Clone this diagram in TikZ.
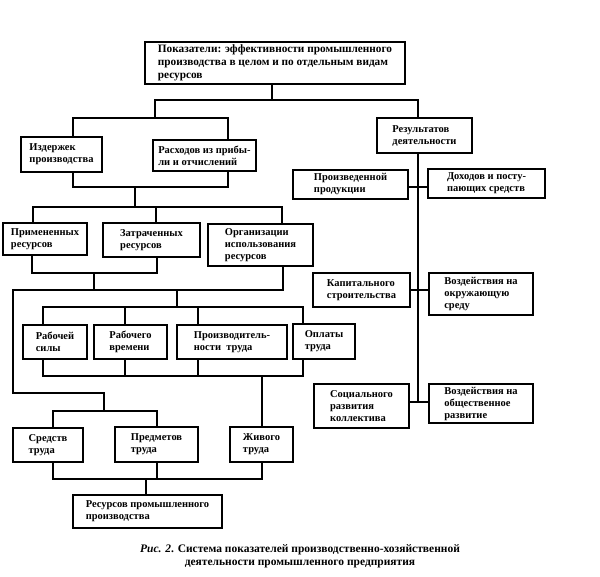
\documentclass[tikz,border=0pt]{standalone}
\usepackage{fontspec}
\setmainfont{Liberation Serif}
\begin{document}
\begin{tikzpicture}[x=1pt,y=-1pt,
  box/.style={draw,line width=1.4pt,inner sep=0pt,outer sep=0pt,align=left,anchor=north west,
    font=\fontsize{10.5}{12}\selectfont\bfseries},
  bigtext/.style={font=\fontsize{11.3}{12.8}\selectfont\bfseries},
  con/.style={line width=1.4pt,line cap=rect}]
\useasboundingbox (0,0) rectangle (600,576);
\newcommand\bx[7][]{%
  \pgfmathsetmacro\bw{#5-#3}\pgfmathsetmacro\bh{#6-#4}%
  \node[box,minimum width=\bw pt,minimum height=\bh pt,#1] (#2) at (#3,#4) {#7};}
% boxes
\bx[bigtext]{top}{145}{42}{405}{84}{Показатели: эффективности промышленного\\производства в целом и по отдельным видам\\ресурсов}
\bx{izd}{21}{137}{102}{172}{Издержек\\производства}
\bx{ras}{153}{140}{256}{171}{Расходов из прибы-\\ли и отчислений}
\bx{res}{377}{118}{472}{153}{Результатов\\деятельности}
\bx{prz}{293}{170}{408}{199}{Произведенной\\продукции}
\bx{doh}{428}{169}{545}{198}{Доходов и посту-\\пающих средств}
\bx{prim}{3}{223}{87}{255}{Примененных\\ресурсов}
\bx{zatr}{103}{223}{200}{257}{Затраченных\\ресурсов}
\bx{org}{208}{224}{313}{266}{Организации\\использования\\ресурсов}
\bx{kap}{313}{273}{410}{307}{Капитального\\строительства}
\bx{voza}{429}{273}{533}{315}{Воздействия на\\окружающую\\среду}
\bx{rsil}{23}{325}{87}{359}{Рабочей\\силы}
\bx{rvr}{94}{325}{167}{359}{Рабочего\\времени}
\bx{ptr}{177}{325}{287}{359}{Производитель-\\ности~ труда}
\bx{opl}{293}{324}{355}{359}{Оплаты\\труда}
\bx{soc}{314}{384}{409}{428}{Социального\\развития\\коллектива}
\bx{vozb}{429}{384}{533}{423}{Воздействия на\\общественное\\развитие}
\bx{sred}{13}{428}{83}{462}{Средств\\труда}
\bx{pred}{115}{427}{198}{462}{Предметов\\труда}
\bx{jiv}{230}{427}{293}{462}{Живого\\труда}
\bx{resp}{73}{495}{222}{528}{Ресурсов промышленного\\производства}
% junction coordinates
\coordinate (a0) at (272,100); \coordinate (aL) at (155,100); \coordinate (aR) at (418,100);
\coordinate (bL) at (73,118); \coordinate (bR) at (228,118);
\coordinate (cL) at (73,187); \coordinate (cR) at (228,187); \coordinate (cM) at (135,187);
\coordinate (dL) at (33,207); \coordinate (dC) at (156,207); \coordinate (dR) at (282,207); \coordinate (dM) at (135,207);
\coordinate (eL) at (32,273); \coordinate (eR) at (157,273); \coordinate (eM) at (94,273);
\coordinate (fL) at (13,290); \coordinate (fR) at (283,290); \coordinate (fM) at (94,290); \coordinate (fC) at (177,290);
\coordinate (iL) at (43,307); \coordinate (i2) at (125,307); \coordinate (i3) at (198,307); \coordinate (iR) at (303,307); \coordinate (iC) at (177,307);
\coordinate (kL) at (43,376); \coordinate (k2) at (125,376); \coordinate (k3) at (198,376); \coordinate (kR) at (303,376); \coordinate (kJ) at (262,376);
\coordinate (gL) at (13,393); \coordinate (gR) at (104,393);
\coordinate (hL) at (53,411); \coordinate (hR) at (157,411); \coordinate (hM) at (104,411);
\coordinate (mL) at (53,479); \coordinate (mP) at (157,479); \coordinate (mR) at (262,479); \coordinate (mC) at (146,479);
\coordinate (s1) at (418,187); \coordinate (s2) at (418,290); \coordinate (s3) at (418,402);
% connectors
\draw[con] (top.south -| a0) -- (a0);
\draw[con] (aL) -- (aR) -- (res.north -| aR);
\draw[con] (aL) -- (aL |- bL);
\draw[con] (izd.north -| bL) -- (bL) -- (bR) -- (ras.north -| bR);
\draw[con] (izd.south -| cL) -- (cL) -- (cR) -- (ras.south -| cR);
\draw[con] (cM) -- (dM);
\draw[con] (prim.north -| dL) -- (dL) -- (dR) -- (org.north -| dR);
\draw[con] (dC) -- (zatr.north -| dC);
\draw[con] (prim.south -| eL) -- (eL) -- (eR) -- (zatr.south -| eR);
\draw[con] (eM) -- (fM);
\draw[con] (org.south -| fR) -- (fR) -- (fL) -- (gL) -- (gR) -- (hM);
\draw[con] (fC) -- (iC);
\draw[con] (rsil.north -| iL) -- (iL) -- (iR) -- (opl.north -| iR);
\draw[con] (i2) -- (rvr.north -| i2);
\draw[con] (i3) -- (ptr.north -| i3);
\draw[con] (rsil.south -| kL) -- (kL) -- (kR) -- (opl.south -| kR);
\draw[con] (rvr.south -| k2) -- (k2);
\draw[con] (ptr.south -| k3) -- (k3);
\draw[con] (kJ) -- (jiv.north -| kJ);
\draw[con] (sred.north -| hL) -- (hL) -- (hR) -- (pred.north -| hR);
\draw[con] (sred.south -| mL) -- (mL) -- (mR) -- (jiv.south -| mR);
\draw[con] (pred.south -| mP) -- (mP);
\draw[con] (mC) -- (resp.north -| mC);
\draw[con] (res.south -| s1) -- (s3);
\draw[con] (prz.east |- s1) -- (doh.west |- s1);
\draw[con] (kap.east |- s2) -- (voza.west |- s2);
\draw[con] (soc.east |- s3) -- (vozb.west |- s3);
% caption
\node[align=center,font=\fontsize{11.5}{13}\selectfont\bfseries] (cap) at (300,556)
  {\textit{Рис. 2}. Система показателей производственно-хозяйственной\\деятельности промышленного предприятия};
\end{tikzpicture}
\end{document}
